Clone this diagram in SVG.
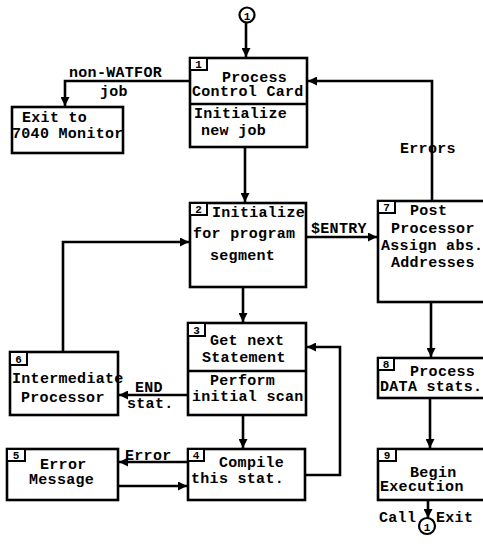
<svg xmlns="http://www.w3.org/2000/svg" width="483" height="560" viewBox="0 0 483 560">
<style>
.box{fill:#fff;stroke:#000;stroke-width:2.6}
.tag{fill:#fff;stroke:#000;stroke-width:2}
.ln{fill:none;stroke:#000;stroke-width:2.6}
text{font-family:"Liberation Mono","DejaVu Sans Mono",monospace;font-weight:bold;font-size:15px;letter-spacing:0.3px;fill:#000}
.n{font-size:11px;letter-spacing:0}
</style>
<defs>
<marker id="ah" viewBox="0 0 10 10" refX="10" refY="5" markerWidth="9" markerHeight="9" markerUnits="userSpaceOnUse" orient="auto">
<path d="M0,0 L10,5 L0,10 z" fill="#000"/>
</marker>
</defs>
<rect width="483" height="560" fill="#fff"/>
<g id="connectors">
<path class="ln" d="M246,23 V57" marker-end="url(#ah)"/>
<path class="ln" d="M190,81 H65 V106" marker-end="url(#ah)"/>
<path class="ln" d="M432,201 V81 H308" marker-end="url(#ah)"/>
<path class="ln" d="M245,147 V202" marker-end="url(#ah)"/>
<path class="ln" d="M306,237 H377" marker-end="url(#ah)"/>
<path class="ln" d="M63,352 V242 H189" marker-end="url(#ah)"/>
<path class="ln" d="M243,287 V322" marker-end="url(#ah)"/>
<path class="ln" d="M188,395 H119" marker-end="url(#ah)"/>
<path class="ln" d="M243,415 V448" marker-end="url(#ah)"/>
<path class="ln" d="M188,462 H119" marker-end="url(#ah)"/>
<path class="ln" d="M118,486 H187" marker-end="url(#ah)"/>
<path class="ln" d="M305,475 H340 V347 H307" marker-end="url(#ah)"/>
<path class="ln" d="M431,302 V357" marker-end="url(#ah)"/>
<path class="ln" d="M430,398 V448" marker-end="url(#ah)"/>
<path class="ln" d="M428,500 V518" marker-end="url(#ah)"/>
<text x="69" y="77">non-WATFOR</text>
<text x="100" y="96">job</text>
<text x="400" y="153">Errors</text>
<text x="311" y="233">$ENTRY</text>
<text x="135" y="392">END</text>
<text x="127" y="408">stat.</text>
<text x="125" y="460">Error</text>
<text x="379" y="522">Call</text>
<text x="436" y="522">Exit</text>
</g>
<g id="c1top">
<circle cx="247" cy="15" r="7.5" fill="#fff" stroke="#000" stroke-width="2.2"/>
<text x="247" y="19.5" class="n" text-anchor="middle">1</text>
</g>
<g id="c1bot">
<circle cx="427" cy="526" r="8" fill="#fff" stroke="#000" stroke-width="2.2"/>
<text x="427" y="530.5" class="n" text-anchor="middle">1</text>
</g>
<g id="n1">
<rect class="box" x="190" y="58" width="117" height="89"/>
<line class="ln" x1="190" y1="104" x2="307" y2="104"/>
<rect class="tag" x="190" y="58" width="17" height="12"/>
<text x="198.5" y="68" class="n" text-anchor="middle">1</text>
<text x="222" y="82">Process</text>
<text x="192" y="96">Control Card</text>
<text x="194" y="118">Initialize</text>
<text x="201" y="135">new  job</text>
</g>
<g id="exit">
<rect class="box" x="12" y="107" width="111" height="46"/>
<text x="22" y="122">Exit to</text>
<text x="12" y="138">7040 Monitor</text>
</g>
<g id="n2">
<rect class="box" x="190" y="203" width="116" height="84"/>
<rect class="tag" x="190" y="203" width="17" height="12"/>
<text x="198.5" y="213" class="n" text-anchor="middle">2</text>
<text x="212" y="217">Initialize</text>
<text x="193" y="238">for program</text>
<text x="210" y="260">segment</text>
</g>
<g id="n7">
<rect class="box" x="378" y="201" width="110" height="101"/>
<rect class="tag" x="378" y="201" width="17" height="12"/>
<text x="386.5" y="211" class="n" text-anchor="middle">7</text>
<text x="410" y="215">Post</text>
<text x="391" y="233">Processor</text>
<text x="381" y="250">Assign abs.</text>
<text x="391" y="267">Addresses</text>
</g>
<g id="n3">
<rect class="box" x="188" y="323" width="118" height="92"/>
<line class="ln" x1="188" y1="371" x2="306" y2="371"/>
<rect class="tag" x="188" y="323" width="17" height="13"/>
<text x="196.5" y="333.5" class="n" text-anchor="middle">3</text>
<text x="210" y="345">Get next</text>
<text x="202" y="362">Statement</text>
<text x="210" y="385">Perform</text>
<text x="192" y="401">initial scan</text>
</g>
<g id="n6">
<rect class="box" x="10" y="352" width="108" height="63"/>
<rect class="tag" x="10" y="352" width="17" height="13"/>
<text x="18.5" y="362.5" class="n" text-anchor="middle">6</text>
<text x="12" y="383">Intermediate</text>
<text x="21" y="402">Processor</text>
</g>
<g id="n8">
<rect class="box" x="378" y="358" width="110" height="40"/>
<rect class="tag" x="378" y="358" width="16" height="12"/>
<text x="386" y="368" class="n" text-anchor="middle">8</text>
<text x="410" y="376">Process</text>
<text x="380" y="391">DATA stats.</text>
</g>
<g id="n4">
<rect class="box" x="188" y="449" width="117" height="51"/>
<rect class="tag" x="188" y="449" width="16" height="12"/>
<text x="196" y="459" class="n" text-anchor="middle">4</text>
<text x="219" y="467">Compile</text>
<text x="191" y="483">this stat.</text>
</g>
<g id="n5">
<rect class="box" x="7" y="449" width="111" height="51"/>
<rect class="tag" x="7" y="449" width="18" height="12"/>
<text x="16" y="459" class="n" text-anchor="middle">5</text>
<text x="40" y="469">Error</text>
<text x="29" y="484">Message</text>
</g>
<g id="n9">
<rect class="box" x="378" y="449" width="110" height="51"/>
<rect class="tag" x="378" y="449" width="18" height="12"/>
<text x="387" y="459" class="n" text-anchor="middle">9</text>
<text x="410" y="477">Begin</text>
<text x="380" y="491">Execution</text>
</g>
</svg>
